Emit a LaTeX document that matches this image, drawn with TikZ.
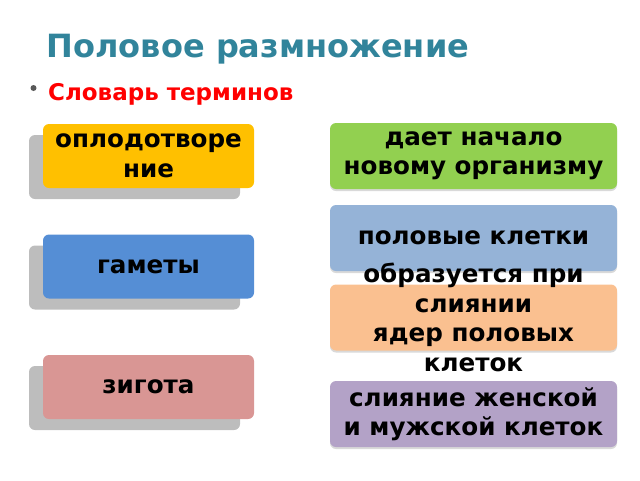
\documentclass[tikz,border=0pt]{standalone}
\usepackage{fontspec}
\setmainfont{DejaVu Sans}
\usetikzlibrary{positioning,shadows}
\definecolor{titleteal}{HTML}{31849B}
\definecolor{shadowgray}{HTML}{BDBDBD}
\definecolor{termyellow}{HTML}{FFC000}
\definecolor{termblue}{HTML}{558ED5}
\definecolor{termpink}{HTML}{D99694}
\definecolor{defgreen}{HTML}{92D050}
\definecolor{defblue}{HTML}{95B3D7}
\definecolor{deforange}{HTML}{FAC090}
\definecolor{defpurple}{HTML}{B3A2C7}

\begin{document}
\begin{tikzpicture}[x=1pt,y=-1pt,
       term/.style={rounded corners=6pt,inner sep=0pt,minimum width=211pt,minimum height=64pt,
              general shadow={fill=shadowgray,shadow xshift=-14pt,shadow yshift=-11pt}},
       meaning/.style={rounded corners=6pt,inner sep=0pt,minimum width=287pt,minimum height=66pt,
              drop shadow={shadow xshift=0pt,shadow yshift=-2pt,opacity=0.3}},
       txt/.style={font=\fontsize{24.6}{29.5}\selectfont\bfseries,align=center,inner sep=0pt}]
       \useasboundingbox (0,0) rectangle (640,480);
       \node[anchor=base,font=\fontsize{32}{40}\selectfont\bfseries,text=titleteal] (title) at (258,57) {Половое размножение};
       \fill[gray!70!black] (33.5,88) circle (3pt);
       \node[anchor=base west,inner sep=0pt,font=\fontsize{23}{28}\selectfont\bfseries,text=red] (subtitle) at (48,100) {Словарь терминов};

       \node[term,fill=termyellow] (fert) at (148.5,156) {};
       \node[term,fill=termblue] (gam) at (148.5,266.5) {};
       \node[term,fill=termpink] (zyg) at (148.5,387) {};
       \node[txt] (fertT) at (fert.center) {оплодотворе\\ние};
       \node[txt] (gamT) at (gam.center) {гаметы};
       \node[txt] (zygT) at (zyg.center) {зигота};

       \node[meaning,fill=defgreen] (org) at (473.5,156) {};
       \node[meaning,fill=defblue] (cells) at (473.5,238) {};
       \node[meaning,fill=deforange] (nucl) at (473.5,317.5) {};
       \node[meaning,fill=defpurple] (fuse) at (473.5,414) {};
       \node[txt] (orgT) at (org.center) {дает начало\\новому организму};
       \node[txt] (cellsT) at (cells.center) {половые клетки};
       \node[txt] (nuclT) at (nucl.center) {образуется при\\слиянии\\ядер половых\\клеток};
       \node[txt] (fuseT) at (fuse.center) {слияние женской\\и мужской клеток};
\end{tikzpicture}
\end{document}
